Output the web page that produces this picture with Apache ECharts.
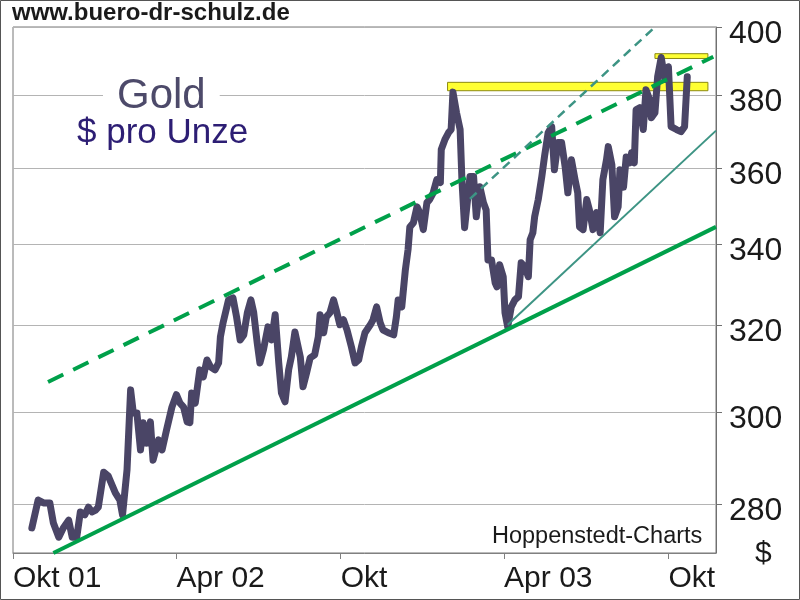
<!DOCTYPE html>
<html><head><meta charset="utf-8">
<script src="https://cdn.jsdelivr.net/npm/echarts@6/dist/echarts.min.js"></script>
<style>html,body{margin:0;padding:0;background:#fff}#c{width:800px;height:600px}</style>
</head><body><div id="c"></div>
<script>
const dates = ['2001-10-22','2001-10-29','2001-11-04','2001-11-11','2001-11-15','2001-11-21','2001-11-26','2001-12-02','2001-12-06','2001-12-11',
'2001-12-15','2001-12-20','2001-12-24','2001-12-28','2002-01-01','2002-01-04','2002-01-10','2002-01-15','2002-01-23','2002-01-28',
'2002-01-31','2002-02-05','2002-02-09','2002-02-12','2002-02-16','2002-02-20','2002-02-23','2002-02-27','2002-03-03','2002-03-06',
'2002-03-12','2002-03-16','2002-03-21','2002-03-27','2002-04-01','2002-04-05','2002-04-09','2002-04-13','2002-04-16','2002-04-18',
'2002-04-22','2002-04-27','2002-05-01','2002-05-05','2002-05-09','2002-05-14','2002-05-18','2002-05-20','2002-05-23','2002-05-29',
'2002-06-03','2002-06-07','2002-06-11','2002-06-15','2002-06-19','2002-06-23','2002-06-26','2002-06-30','2002-07-03','2002-07-07',
'2002-07-12','2002-07-16','2002-07-20','2002-07-24','2002-07-27','2002-07-31','2002-08-04','2002-08-07','2002-08-11','2002-08-17',
'2002-08-20','2002-08-24','2002-08-28','2002-09-02','2002-09-06','2002-09-08','2002-09-12','2002-09-15','2002-09-19','2002-09-23',
'2002-09-26','2002-09-30','2002-10-04','2002-10-08','2002-10-13','2002-10-17','2002-10-21','2002-10-24','2002-10-28','2002-11-03',
'2002-11-06','2002-11-10','2002-11-14','2002-11-17','2002-11-23','2002-11-29','2002-12-02','2002-12-04','2002-12-08','2002-12-12',
'2002-12-15','2002-12-17','2002-12-21','2002-12-25','2002-12-28','2003-01-01','2003-01-05','2003-01-08','2003-01-12','2003-01-16',
'2003-01-20','2003-01-21','2003-01-25','2003-01-29','2003-02-01','2003-02-03','2003-02-07','2003-02-11','2003-02-13','2003-02-16',
'2003-02-22','2003-02-26','2003-03-01','2003-03-05','2003-03-09','2003-03-12','2003-03-14','2003-03-18','2003-03-22','2003-03-24',
'2003-03-27','2003-03-31','2003-04-02','2003-04-05','2003-04-09','2003-04-13','2003-04-17','2003-04-20','2003-04-24','2003-04-28',
'2003-04-30','2003-05-03','2003-05-05','2003-05-09','2003-05-13','2003-05-16','2003-05-20','2003-05-24','2003-05-27','2003-05-31',
'2003-06-04','2003-06-08','2003-06-11','2003-06-15','2003-06-19','2003-06-22','2003-06-24','2003-06-28','2003-07-02','2003-07-05',
'2003-07-09','2003-07-13','2003-07-17','2003-07-20','2003-07-24','2003-07-26','2003-07-30','2003-08-02','2003-08-06','2003-08-08',
'2003-08-12','2003-08-15','2003-08-19','2003-08-21','2003-08-24','2003-08-26','2003-08-30','2003-09-03','2003-09-06','2003-09-10',
'2003-09-12','2003-09-16','2003-09-19','2003-09-23','2003-09-27','2003-10-01','2003-10-02','2003-10-04','2003-10-10','2003-10-15',
'2003-10-19','2003-10-22'];
const prices = [275.1,280.9,280.3,280.3,276.1,273.2,275.1,276.7,273.2,273.2,
278.4,277.8,279.4,278.4,278.8,279.4,286.8,286.0,282.4,280.9,
277.8,287.3,305.0,299.8,299.8,291.6,297.6,293.1,297.8,289.4,
293.8,291.6,296.0,301.1,303.9,302.0,301.1,297.8,297.6,304.3,
302.0,309.6,308.0,311.9,310.3,309.6,311.2,317.3,320.7,326.2,
326.7,322.1,316.6,317.8,323.1,326.2,323.3,315.9,311.2,314.3,
319.7,316.6,322.6,311.2,304.3,302.3,309.6,312.6,318.5,312.6,
305.7,308.9,312.4,313.1,317.3,322.6,318.3,322.1,323.1,326.2,
323.8,320.2,321.4,319.0,314.9,311.2,311.9,314.9,318.3,320.2,
321.4,324.5,320.7,319.0,318.3,317.8,322.1,326.2,324.5,333.6,
338.7,344.5,345.6,349.7,348.2,343.8,350.8,351.6,353.4,356.9,
356.1,365.0,367.7,369.6,370.5,381.0,375.2,370.5,356.9,344.3,
357.7,357.7,347.1,355.0,350.8,348.9,336.1,336.1,330.4,329.4,
334.9,331.9,323.1,319.7,324.5,326.2,327.0,335.4,334.4,331.9,
341.2,343.0,347.1,351.6,357.7,363.1,369.6,371.3,359.5,366.9,
366.9,360.3,353.4,362.2,356.9,353.4,344.5,343.8,351.6,348.9,
343.8,348.2,343.0,356.9,362.2,365.8,360.9,347.1,349.7,359.5,
354.9,363.0,361.4,364.1,361.4,376.0,376.6,370.5,381.7,378.9,
373.8,375.2,385.4,391.0,384.6,388.3,382.6,371.3,370.5,369.9,
371.3,385.4];

const yTicks = [280, 300, 320, 340, 360, 380, 400];
const xTickDates = ['2001-10-01', '2002-04-01', '2002-10-01', '2003-04-01', '2003-10-01'];
const xTickLabels = ['Okt 01', 'Apr 02', 'Okt', 'Apr 03', 'Okt'];

const supportDates = ['2001-11-15', '2003-11-23'];
const supportValues = [270, 344.5];
const resistDates = ['2001-11-09', '2003-11-20'];
const resistValues = [306.8, 391.2];
const channelDates = ['2003-04-05', '2003-11-23'];
const channelValues = [320.2, 370.2];
const channelTopDates = ['2003-02-22', '2003-09-16'];
const channelTopValues = [351.8, 400];

const bandStart = ['2003-01-28', '2003-09-16'];
const bandEnd = ['2003-11-14', '2003-11-14'];
const bandLow = [381.4, 390.7];
const bandHigh = [383.8, 392.1];

function ts(s) { const p = s.split('-').map(Number); return Date.UTC(p[0], p[1] - 1, p[2]); }
const xTickTs = xTickDates.map(ts);
function pairs(ds, vs) { return ds.map((d, i) => [ts(d), vs[i]]); }

const FONT = 'Liberation Sans, Arial, sans-serif';
const chart = echarts.init(document.getElementById('c'));
const option = {
  animation: false,
  backgroundColor: '#fff',
  textStyle: { fontFamily: FONT },
  title: [
    { text: 'www.buero-dr-schulz.de', left: 12, top: 1, padding: 0, textStyle: { fontSize: 24, fontWeight: 'bold', color: '#1a1a1a', fontFamily: FONT } },
    { text: 'Gold', left: 103, top: 75, padding: [0, 14, 0, 14], backgroundColor: '#fff', textStyle: { fontSize: 42, fontWeight: 'normal', color: '#4d4a6a', fontFamily: FONT } },
    { text: '$ pro Unze', left: 77, top: 116, padding: 0, textStyle: { fontSize: 35, fontWeight: 'normal', color: '#2d1e74', fontFamily: FONT } },
    { text: 'Hoppenstedt-Charts', left: 492, top: 525, padding: 0, textStyle: { fontSize: 23.5, fontWeight: 'normal', color: '#1a1a1a', fontFamily: FONT } },
    { text: '$', left: 755, top: 539, padding: 0, textStyle: { fontSize: 30, fontWeight: 'normal', color: '#1a1a1a', fontFamily: FONT } }
  ],
  graphic: [{ type: 'rect', shape: { x: 0.5, y: 0.5, width: 799, height: 599 }, style: { fill: 'none', stroke: '#555', lineWidth: 1 }, z: 100, silent: true }],
  grid: { left: 13, right: 84, top: 27, bottom: 47, show: true, borderColor: '#777', borderWidth: 1, backgroundColor: '#fff' },
  xAxis: {
    type: 'value', min: ts('2001-10-01'), max: ts('2003-11-23'),
    axisLine: { show: true, lineStyle: { color: '#808080', width: 1 } },
    axisTick: { show: true, customValues: xTickTs, length: 6, lineStyle: { color: '#808080' } },
    axisLabel: {
      customValues: xTickTs, align: 'left', fontSize: 30, color: '#1a1a1a', margin: 11, fontFamily: FONT,
      formatter: function (v) { for (let i = 0; i < xTickTs.length; i++) { if (Math.abs(v - xTickTs[i]) < 3600000 * 12) return xTickLabels[i]; } return ''; }
    },
    splitLine: { show: false }
  },
  yAxis: {
    type: 'log', logBase: 10, min: 270, max: 400, position: 'right',
    axisLine: { show: true, lineStyle: { color: '#707070', width: 1 } },
    axisTick: { show: true, customValues: yTicks, length: 6, lineStyle: { color: '#707070' } },
    axisLabel: { customValues: yTicks, fontSize: 32, color: '#1a1a1a', margin: 13, verticalAlign: 'top', lineHeight: 14, fontFamily: FONT },
    splitLine: { show: true, lineStyle: { color: '#b4b4b4', width: 1 } }
  },
  series: [
    {
      type: 'line', data: [], silent: true, z: 1,
      markArea: {
        silent: true,
        itemStyle: { color: '#ffff33', borderColor: '#8c8a10', borderWidth: 1 },
        data: bandStart.map((s, i) => [{ coord: [ts(s), bandHigh[i]] }, { coord: [ts(bandEnd[i]), bandLow[i]] }])
      }
    },
    {
      name: 'Gold', type: 'line', data: pairs(dates, prices), showSymbol: false, symbol: 'none', z: 2,
      lineStyle: { color: '#4a4566', width: 7, cap: 'round', join: 'round' }
    },
    { type: 'line', data: pairs(supportDates, supportValues), symbol: 'none', z: 3, lineStyle: { color: '#00a04a', width: 4 } },
    { type: 'line', data: pairs(resistDates, resistValues), symbol: 'none', z: 3, lineStyle: { color: '#00a04a', width: 4, type: [17, 11] } },
    { type: 'line', data: pairs(channelDates, channelValues), symbol: 'none', z: 3, lineStyle: { color: '#3d9484', width: 2 } },
    { type: 'line', data: pairs(channelTopDates, channelTopValues), symbol: 'none', z: 3, lineStyle: { color: '#3d9484', width: 2.5, type: [9, 6] } }
  ]
};
chart.setOption(option);
</script>
</body></html>
